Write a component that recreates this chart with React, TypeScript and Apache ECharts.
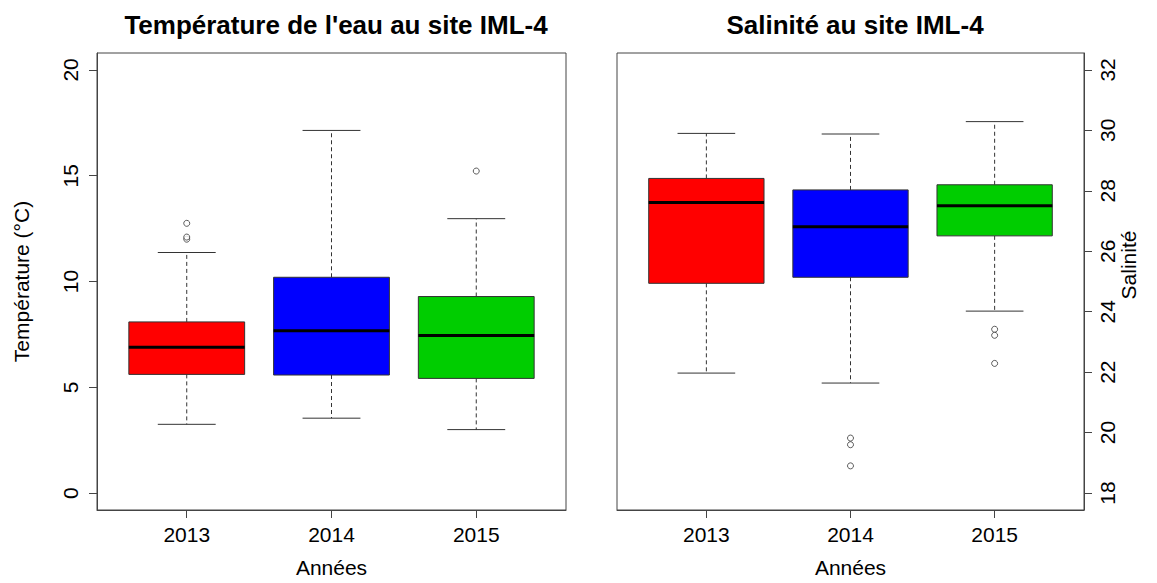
import React, { useEffect, useRef } from "react";
import * as echarts from "echarts";

const years = ["2013", "2014", "2015"];
const boxColors = ["#FF0000", "#0000FF", "#00CD00"];

// Température (°C)
const tempMin = [3.25, 3.54, 3.0];
const tempQ1 = [5.61, 5.58, 5.42];
const tempMed = [6.89, 7.67, 7.45];
const tempQ3 = [8.09, 10.2, 9.29];
const tempMax = [11.37, 17.14, 12.97];
const tempOutliers: [number, number][] = [
  [1, 12.0],
  [1, 12.1],
  [1, 12.75],
  [3, 15.22],
];
const tempTicks = [0, 5, 10, 15, 20];

// Salinité
const salMin = [21.97, 21.64, 24.02];
const salQ1 = [24.94, 25.14, 26.51];
const salMed = [27.61, 26.81, 27.51];
const salQ3 = [28.41, 28.03, 28.2];
const salMax = [29.9, 29.88, 30.29];
const salOutliers: [number, number][] = [
  [2, 19.82],
  [2, 19.6],
  [2, 18.9],
  [3, 23.42],
  [3, 23.22],
  [3, 22.29],
];
const salTicks = [18, 20, 22, 24, 26, 28, 30, 32];
const xTicks = [1, 2, 3];

const FONT = "Liberation Sans, Arial, sans-serif";

function buildBoxData(mn: number[], q1: number[], md: number[], q3: number[], mx: number[]) {
  return years.map((_, i) => [i + 1, mn[i], q1[i], md[i], q3[i], mx[i]]);
}

const renderBox = (params: any, api: any) => {
  const x = api.value(0);
  const pMin = api.coord([x, api.value(1)]);
  const pQ1 = api.coord([x, api.value(2)]);
  const pMed = api.coord([x, api.value(3)]);
  const pQ3 = api.coord([x, api.value(4)]);
  const pMax = api.coord([x, api.value(5)]);
  const halfBox = api.size([0.4, 0])[0];
  const halfCap = api.size([0.2, 0])[0];
  const cx = pMed[0];
  const color = boxColors[params.dataIndex % boxColors.length];
  const edge = "#333333";
  return {
    type: "group",
    children: [
      {
        type: "line",
        shape: { x1: cx, y1: pQ3[1], x2: cx, y2: pMax[1] },
        style: { stroke: edge, lineWidth: 1, lineDash: [4, 3] },
      },
      {
        type: "line",
        shape: { x1: cx, y1: pQ1[1], x2: cx, y2: pMin[1] },
        style: { stroke: edge, lineWidth: 1, lineDash: [4, 3] },
      },
      {
        type: "line",
        shape: { x1: cx - halfCap, y1: pMax[1], x2: cx + halfCap, y2: pMax[1] },
        style: { stroke: edge, lineWidth: 1 },
      },
      {
        type: "line",
        shape: { x1: cx - halfCap, y1: pMin[1], x2: cx + halfCap, y2: pMin[1] },
        style: { stroke: edge, lineWidth: 1 },
      },
      {
        type: "rect",
        shape: { x: cx - halfBox, y: pQ3[1], width: 2 * halfBox, height: pQ1[1] - pQ3[1] },
        style: { fill: color, stroke: edge, lineWidth: 1 },
      },
      {
        type: "line",
        shape: { x1: cx - halfBox, y1: pMed[1], x2: cx + halfBox, y2: pMed[1] },
        style: { stroke: "#000000", lineWidth: 3 },
      },
    ],
  };
};

export default function App() {
  const ref = useRef<HTMLDivElement>(null);

  useEffect(() => {
    if (!ref.current) return;
    const chart = echarts.init(ref.current, undefined, { renderer: "svg" });

    const tickLabel = { fontSize: 21, color: "#000", fontFamily: FONT };
    const xAxisCommon = (gridIndex: number) => ({
      type: "value",
      gridIndex,
      position: "bottom",
      min: 0.38,
      max: 3.62,
      splitLine: { show: false },
      axisLine: { show: true, onZero: false, lineStyle: { color: "#444", width: 1 } },
      axisTick: { show: true, inside: false, customValues: xTicks, length: 8, lineStyle: { color: "#444" } },
      axisLabel: {
        ...tickLabel,
        customValues: xTicks,
        margin: 14,
        formatter: (v: number) => years[Math.round(v) - 1] ?? "",
      },
      name: "Années",
      nameLocation: "middle",
      nameGap: 47,
      nameTextStyle: { fontSize: 21, color: "#000", fontFamily: FONT },
    });

    chart.setOption({
      animation: false,
      backgroundColor: "#ffffff",
      title: [
        {
          text: "Température de l'eau au site IML-4",
          left: 331,
          top: 7,
          textAlign: "center",
          textStyle: { fontSize: 26, fontWeight: "bold", color: "#000", fontFamily: FONT },
        },
        {
          text: "Salinité au site IML-4",
          left: 850,
          top: 7,
          textAlign: "center",
          textStyle: { fontSize: 26, fontWeight: "bold", color: "#000", fontFamily: FONT },
        },
      ],
      grid: [
        { left: 97, top: 53, width: 469, height: 458, show: true, borderColor: "#444", borderWidth: 1, backgroundColor: "transparent" },
        { left: 617, top: 53, width: 467, height: 458, show: true, borderColor: "#444", borderWidth: 1, backgroundColor: "transparent" },
      ],
      xAxis: [xAxisCommon(0), xAxisCommon(1)],
      yAxis: [
        {
          type: "value",
          gridIndex: 0,
          position: "left",
          min: -0.8,
          max: 20.8,
          splitLine: { show: false },
          axisLine: { show: true, onZero: false, lineStyle: { color: "#444", width: 1 } },
          axisTick: { show: true, inside: false, customValues: tempTicks, length: 8, lineStyle: { color: "#444" } },
          axisLabel: { show: false },
          name: "Température (°C)",
          nameLocation: "middle",
          nameGap: 65,
          nameTextStyle: { fontSize: 21, color: "#000", fontFamily: FONT },
        },
        {
          type: "value",
          gridIndex: 1,
          position: "right",
          min: 17.44,
          max: 32.56,
          splitLine: { show: false },
          axisLine: { show: true, onZero: false, lineStyle: { color: "#444", width: 1 } },
          axisTick: { show: true, inside: false, customValues: salTicks, length: 8, lineStyle: { color: "#444" } },
          axisLabel: { show: false },
        },
      ],
      series: [
        {
          type: "custom",
          xAxisIndex: 0,
          yAxisIndex: 0,
          renderItem: renderBox,
          encode: { x: 0, y: [1, 2, 3, 4, 5] },
          data: buildBoxData(tempMin, tempQ1, tempMed, tempQ3, tempMax),
          z: 2,
        },
        {
          type: "scatter",
          xAxisIndex: 0,
          yAxisIndex: 0,
          data: tempOutliers,
          symbol: "circle",
          symbolSize: 6,
          itemStyle: { color: "#fff", borderColor: "#333", borderWidth: 1 },
          z: 3,
        },
        {
          type: "custom",
          xAxisIndex: 1,
          yAxisIndex: 1,
          renderItem: renderBox,
          encode: { x: 0, y: [1, 2, 3, 4, 5] },
          data: buildBoxData(salMin, salQ1, salMed, salQ3, salMax),
          z: 2,
        },
        {
          type: "scatter",
          xAxisIndex: 1,
          yAxisIndex: 1,
          data: salOutliers,
          symbol: "circle",
          symbolSize: 6,
          itemStyle: { color: "#fff", borderColor: "#333", borderWidth: 1 },
          z: 3,
        },
      ],
    });

    // Rotated y tick labels (R style, reading bottom-to-top), placed via the axes' own scales
    const rotatedLabel = (text: string, x: number, y: number) => ({
      type: "text",
      x,
      y,
      rotation: Math.PI / 2,
      style: {
        text,
        fontSize: 21,
        fill: "#000",
        fontFamily: FONT,
        align: "center",
        verticalAlign: "middle",
      },
    });
    const leftLabels = tempTicks.map((v) =>
      rotatedLabel(String(v), 70, chart.convertToPixel({ yAxisIndex: 0 }, v) as number)
    );
    const rightLabels = salTicks.map((v) =>
      rotatedLabel(String(v), 1107, chart.convertToPixel({ yAxisIndex: 1 }, v) as number)
    );
    chart.setOption({
      graphic: [...leftLabels, ...rightLabels, rotatedLabel("Salinité", 1128, 265)],
    });

    return () => chart.dispose();
  }, []);

  return (
    <div
      ref={ref}
      style={{ position: "absolute", left: 0, top: 0, width: 1157, height: 583 }}
    />
  );
}
